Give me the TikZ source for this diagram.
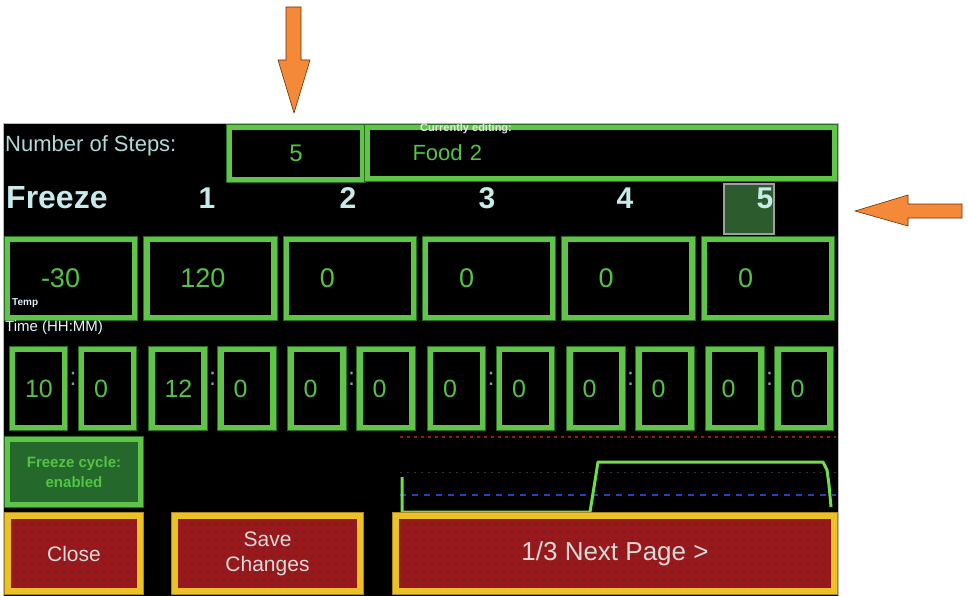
\documentclass[tikz,border=0pt]{standalone}
\usepackage{fontspec}
\setmainfont{Liberation Sans}
\usetikzlibrary{calc,patterns.meta}

\definecolor{scrgreen}{RGB}{96,196,72}
\definecolor{scrdark}{RGB}{38,110,34}
\definecolor{txtgreen}{RGB}{84,196,66}
\definecolor{txtcyan}{RGB}{176,218,218}
\definecolor{stepcyan}{RGB}{200,234,234}
\definecolor{cyclegreen}{RGB}{36,104,44}
\definecolor{curgreen}{RGB}{44,92,46}
\definecolor{btnred}{RGB}{152,24,28}
\definecolor{btngold}{RGB}{234,194,38}
\definecolor{btngolddark}{RGB}{170,134,28}
\definecolor{arroworange}{RGB}{245,137,58}
\definecolor{gridred}{RGB}{150,26,26}
\definecolor{gridblue}{RGB}{36,64,200}
\definecolor{curvegreen}{RGB}{112,222,70}

\begin{document}
\begin{tikzpicture}[x=1pt,y=-1pt]
       \tikzstyle{field} = [rectangle, draw=scrgreen, line width=5.5pt, fill=black, inner sep=0pt, preaction={draw=scrdark, line width=7.5pt}, text=txtgreen];
       \tikzstyle{valfield} = [field, minimum height=78pt, text width=60pt, inner xsep=33.5pt, align=left, font=\fontsize{27}{30}\selectfont];
       \tikzstyle{timefield} = [field, minimum height=78pt, text width=27pt, inner xsep=12.5pt, align=left, font=\fontsize{25}{28}\selectfont];
       \tikzstyle{lbl} = [inner sep=0pt, text=txtcyan];
       \tikzstyle{steplbl} = [inner sep=0pt, text=stepcyan, font=\bfseries\fontsize{30}{34}\selectfont];
       \tikzstyle{tinylbl} = [inner sep=0pt, text=white!85!cyan, font=\bfseries\fontsize{10}{12}\selectfont];
       \tikzstyle{colon} = [inner sep=0pt, text=gray!70!cyan, yshift=9.5pt, font=\fontsize{25}{28}\selectfont];
       \tikzstyle{redbtn} = [rectangle, draw=btngold, line width=6pt, preaction={draw=btngolddark, line width=8pt}, preaction={fill=btnred}, pattern={Dots[distance=8pt, radius=0.8pt]}, pattern color=black!80, text=white!85!black, minimum height=75pt, inner sep=0pt, align=center, font=\fontsize{21}{25}\selectfont];
       \tikzstyle{pointer} = [fill=arroworange, draw=black!60!orange, line width=0.6pt, line join=miter];

       \useasboundingbox (0,0) rectangle (968,596);
       \fill[white] (0,0) rectangle (968,596);
       \filldraw[fill=black, draw=gray!55] (3,123) rectangle (838,597);

       % header
       \node[lbl, anchor=base west, font=\fontsize{22}{26}\selectfont] (steps) at (5,152) {Number of Steps:};
       \node[field, minimum width=133pt, minimum height=52pt, font=\fontsize{24}{28}\selectfont] (nsteps) at (296,153.5) {5};
       \node[field, text width=377pt, inner xsep=45pt, minimum height=51pt, align=left, font=\fontsize{22}{26}\selectfont] (food) at (601,153) {Food 2};
       \node[inner sep=0pt, text=white!80!gray, font=\bfseries\fontsize{11}{13}\selectfont, anchor=base west] (editing) at (420,132) {Currently editing:};

       % steps
       \node[rectangle, fill=curgreen, draw=gray!75, line width=1.5pt, minimum width=50pt, minimum height=50pt] (cur) at (749,209) {};
       \node[steplbl, anchor=base west, font=\bfseries\fontsize{32}{36}\selectfont] (title) at (6,208) {Freeze};
       \node[steplbl, anchor=base] (s1) at (207,208) {1};
       \node[steplbl, anchor=base] (s2) at (348,208) {2};
       \node[steplbl, anchor=base] (s3) at (487,208) {3};
       \node[steplbl, anchor=base] (s4) at (625,208) {4};
       \node[steplbl, anchor=base] (s5) at (765,208) {5};

       % temperatures
       \node[valfield] (v1) at (71,278.5) {-30};
       \node[valfield] (v2) at (210.4,278.5) {120};
       \node[valfield] (v3) at (349.8,278.5) {0};
       \node[valfield] (v4) at (489.2,278.5) {0};
       \node[valfield] (v5) at (628.6,278.5) {0};
       \node[valfield] (v6) at (768,278.5) {0};
       \node[tinylbl, anchor=base west] (temp) at (12,305) {Temp};
       \node[lbl, anchor=base west, text=white!90!cyan, font=\fontsize{15}{18}\selectfont] (timelbl) at (5,331) {Time (HH:MM)};

       % times
       \node[timefield] (ta1) at (38.5,388.5) {10};
       \node[timefield] (tb1) at (107.5,388.5) {0};
       \node[timefield] (ta2) at (178,388.5) {12};
       \node[timefield] (tb2) at (247,388.5) {0};
       \node[timefield] (ta3) at (317,388.5) {0};
       \node[timefield] (tb3) at (386,388.5) {0};
       \node[timefield] (ta4) at (456.5,388.5) {0};
       \node[timefield] (tb4) at (525.5,388.5) {0};
       \node[timefield] (ta5) at (596,388.5) {0};
       \node[timefield] (tb5) at (665,388.5) {0};
       \node[timefield] (ta6) at (735,388.5) {0};
       \node[timefield] (tb6) at (804,388.5) {0};
       \node[colon] (c1) at ($(ta1.east)!0.5!(tb1.west)$) {:};
       \node[colon] (c2) at ($(ta2.east)!0.5!(tb2.west)$) {:};
       \node[colon] (c3) at ($(ta3.east)!0.5!(tb3.west)$) {:};
       \node[colon] (c4) at ($(ta4.east)!0.5!(tb4.west)$) {:};
       \node[colon] (c5) at ($(ta5.east)!0.5!(tb5.west)$) {:};
       \node[colon] (c6) at ($(ta6.east)!0.5!(tb6.west)$) {:};

       % cycle switch
       \node[rectangle, draw=scrgreen, line width=5pt, fill=cyclegreen, preaction={draw=scrdark, line width=7pt}, text=txtgreen, inner sep=0pt, minimum width=133pt, minimum height=65pt, align=center, font=\bfseries\fontsize{15}{20}\selectfont] (cycle) at (74,472) {Freeze cycle:\\enabled};

       % profile
       \draw[gridred, line width=1.8pt, dash pattern=on 3pt off 4pt] (400,437) -- (836,437);
       \draw[gray!40!black, line width=1pt, dash pattern=on 2pt off 5pt] (400,472) -- (836,472);
       \draw[gridblue, line width=1.5pt, dash pattern=on 6pt off 6pt] (400,495) -- (836,495);
       \draw[curvegreen, line width=3pt, line join=round] (402,477) -- (402,512) -- (590,512) -- (598,462) -- (823,462) -- (827,470) -- (829,485) -- (831,507);

       % buttons
       \node[redbtn, minimum width=132pt] (close) at (74,553.5) {Close};
       \node[redbtn, minimum width=185pt] (save) at (267.5,553.5) {Save\\Changes};
       \node[redbtn, minimum width=438pt, font=\fontsize{26}{30}\selectfont] (next) at (615,553.5) {1/3 Next Page >};

       % arrows
       \filldraw[pointer] (286,7) -- (301,7) -- (301,60) -- (310,60) -- (294,113) -- (278,60) -- (286,60) -- cycle;
       \filldraw[pointer] (962,204) -- (908,204) -- (908,195) -- (855,211) -- (908,226) -- (908,218) -- (962,218) -- cycle;
     \end{tikzpicture}
\end{document}
